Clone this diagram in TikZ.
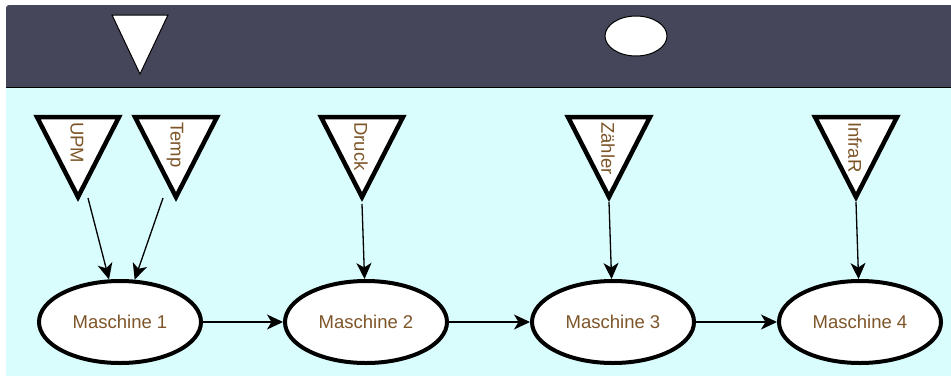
\documentclass[tikz,border=0pt]{standalone}
\usepackage{fontspec}
\setmainfont{Liberation Sans}
\usetikzlibrary{arrows.meta,shapes.geometric}
\definecolor{band}{RGB}{70,70,90}
\definecolor{bgcyan}{RGB}{217,252,253}
\definecolor{txtbrown}{RGB}{125,85,40}
\tikzset{
  machine/.style={ellipse, draw=black, line width=4pt, fill=white,
    minimum width=162pt, minimum height=82pt, inner sep=0pt,
    text=txtbrown, font=\fontsize{18.5}{21}\selectfont},
  sensorshape/.style={draw=black, line width=4.5pt, fill=white, line join=miter},
  sensorlabel/.style={rotate=-90, anchor=west, inner sep=0pt,
    text=txtbrown, font=\fontsize{18.5}{21}\selectfont},
  topshape/.style={draw=black, line width=1pt, fill=white},
  flow/.style={-{Stealth[length=16pt,width=15pt,inset=4.5pt]}, line width=1.3pt, draw=black},
}
\newcommand\mysensor[3]{%
  \draw[sensorshape] (#2-41,117) -- (#2+41,117) -- (#2,197) -- cycle;
  \node[sensorlabel] (#1) at (#2-1,122) {#3};}
\begin{document}
\begin{tikzpicture}[x=1pt,y=-1pt]
\useasboundingbox (0,0) rectangle (951,376);
% background bands
\fill[bgcyan] (6,87) rectangle (951,376);
\fill[band] (951,5) -- (9,5) [rounded corners=3pt] -- (6,5) [sharp corners] -- (6,87) -- (951,87) -- cycle;
\draw[line width=1.5pt, black] (6,87.5) -- (951,87.5);
% top band shapes
\draw[topshape] (112,15) -- (168,15) -- (140,74) -- cycle;
\draw[topshape] (636,36) ellipse [x radius=31, y radius=20];
% sensors
\mysensor{upm}{78}{UPM}
\mysensor{temp}{176}{Temp}
\mysensor{druck}{362}{Druck}
\mysensor{zaehler}{609}{Zähler}
\mysensor{infrar}{856}{InfraR}
\coordinate (upm-out) at (88,198);
\coordinate (temp-out) at (163,198);
\coordinate (druck-out) at (362,204);
\coordinate (zaehler-out) at (609,202);
\coordinate (infrar-out) at (856,202);
% machines
\node[machine] (m1) at (120,322) {Maschine 1};
\node[machine] (m2) at (366,322) {Maschine 2};
\node[machine] (m3) at (613,322) {Maschine 3};
\node[machine] (m4) at (860,322) {Maschine 4};
% connectors
\draw[flow] (upm-out) -- (m1);
\draw[flow] (temp-out) -- (m1);
\draw[flow] (druck-out) -- (m2);
\draw[flow] (zaehler-out) -- (m3);
\draw[flow] (infrar-out) -- (m4);
\draw[flow] (m1) -- (m2);
\draw[flow] (m2) -- (m3);
\draw[flow] (m3) -- (m4);
\end{tikzpicture}
\end{document}
